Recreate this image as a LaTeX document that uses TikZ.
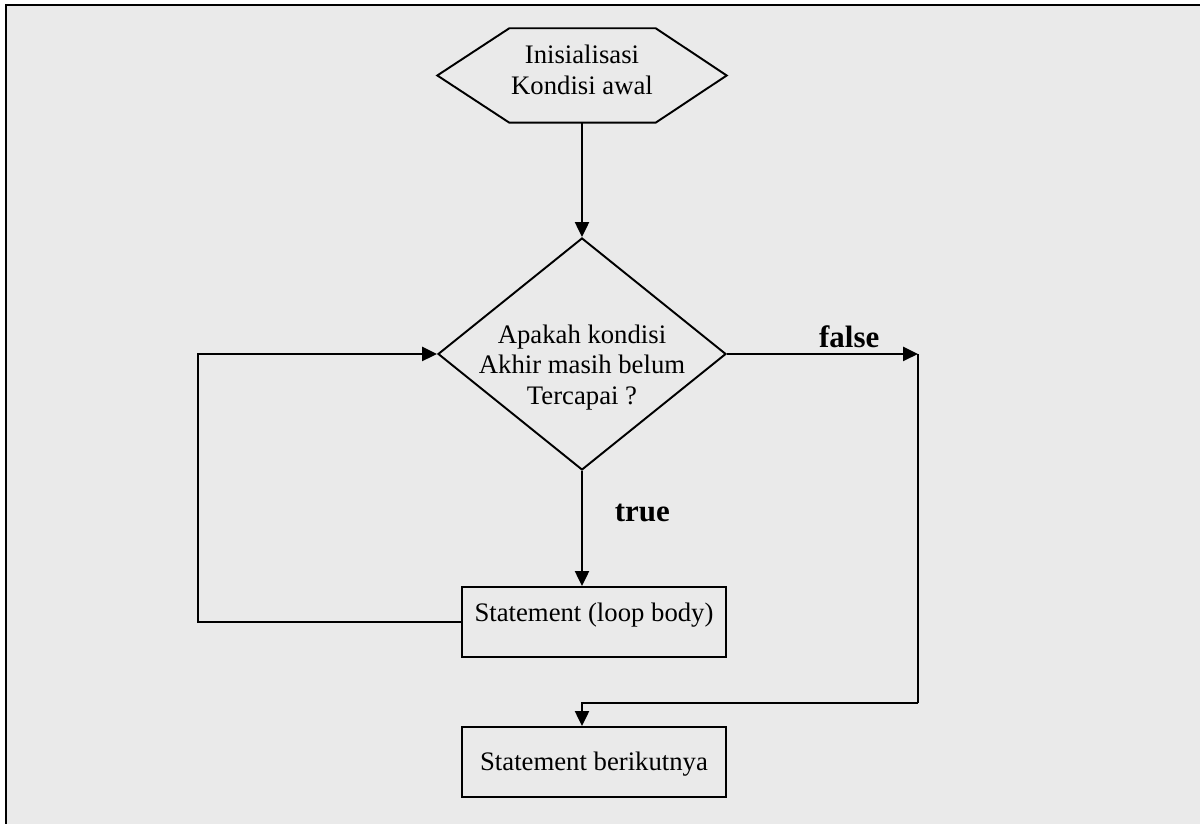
\documentclass[tikz,border=0pt]{standalone}
\usepackage{fontspec}
\setmainfont{Liberation Serif}
\usetikzlibrary{calc,arrows.meta,shapes.geometric}
\definecolor{paperGray}{HTML}{EAEAEA}
\tikzset{
	txt/.style={font=\fontsize{7.6}{8.7}\selectfont, align=center},
	lbl/.style={font=\fontsize{8.8}{10}\selectfont\bfseries},
	hexbox/.style={txt, minimum width=2.88cm, minimum height=0.93cm, inner sep=0pt},
	decision/.style={txt, diamond, draw, line width=0.55pt, minimum width=2.88cm, minimum height=2.32cm, inner xsep=-0.5cm, inner ysep=-0.3cm},
	stmt/.style={txt, draw, line width=0.55pt, minimum width=2.64cm, minimum height=0.7cm, inner sep=0pt, text height=6.7pt, text depth=1.7pt},
	flow/.style={line width=0.7pt, -{Triangle[length=0.15cm,width=0.14cm]}},
	wire/.style={line width=0.7pt}
}
\begin{document}
\begin{tikzpicture}
			%%%%% START %%%%%
			
			\useasboundingbox (0, 0) rectangle (12, 8.24);
			\fill[paperGray] (0.06, 0) rectangle (12, 8.19);
			\draw[line width=0.65pt] (0.06, 0) -- (0.06, 8.19) -- (12, 8.19);
			
			\node[hexbox] (init) at (5.82, 7.485) {Inisialisasi\\Kondisi awal\rule[-3.3pt]{0pt}{3.3pt}};
			\draw[line width=0.55pt] (init.west) -- ($(init.north west)+(0.72, 0)$) -- ($(init.north east)+(-0.71, 0)$) -- (init.east) -- ($(init.south east)+(-0.71, 0)$) -- ($(init.south west)+(0.72, 0)$) -- cycle;
			
			\node[decision] (cond) at (5.82, 4.70) {\rule{0pt}{12.9pt}Apakah kondisi\\Akhir masih belum\\Tercapai ?};
			
			\node[stmt, text depth=6.7pt] (body) at (5.94, 2.02) {Statement (loop body)};
			\node[stmt] (next) at (5.94, 0.62) {Statement berikutnya};
			
			\coordinate (loopL) at (1.98, 4.70);
			\coordinate (falseR) at (9.18, 4.70);
			\coordinate (falseD) at (9.18, 1.21);
			
			\draw[flow] (init.south) -- (cond.north);
			\draw[flow] (cond.south) -- node[lbl, pos=0.44, anchor=base west, xshift=0.2cm] {true} (cond.south |- body.north);
			\draw[flow] (body.west) -| (loopL) -- (cond.west);
			\draw[flow] (cond.east) -- node[lbl, pos=0.64, anchor=base, yshift=0.06cm] {false} (falseR);
			\draw[wire] (falseR) -- (falseD);
			\draw[flow] (falseD) -| (cond.south |- next.north);
			
			%%%%% END %%%%%
\end{tikzpicture}
\end{document}
